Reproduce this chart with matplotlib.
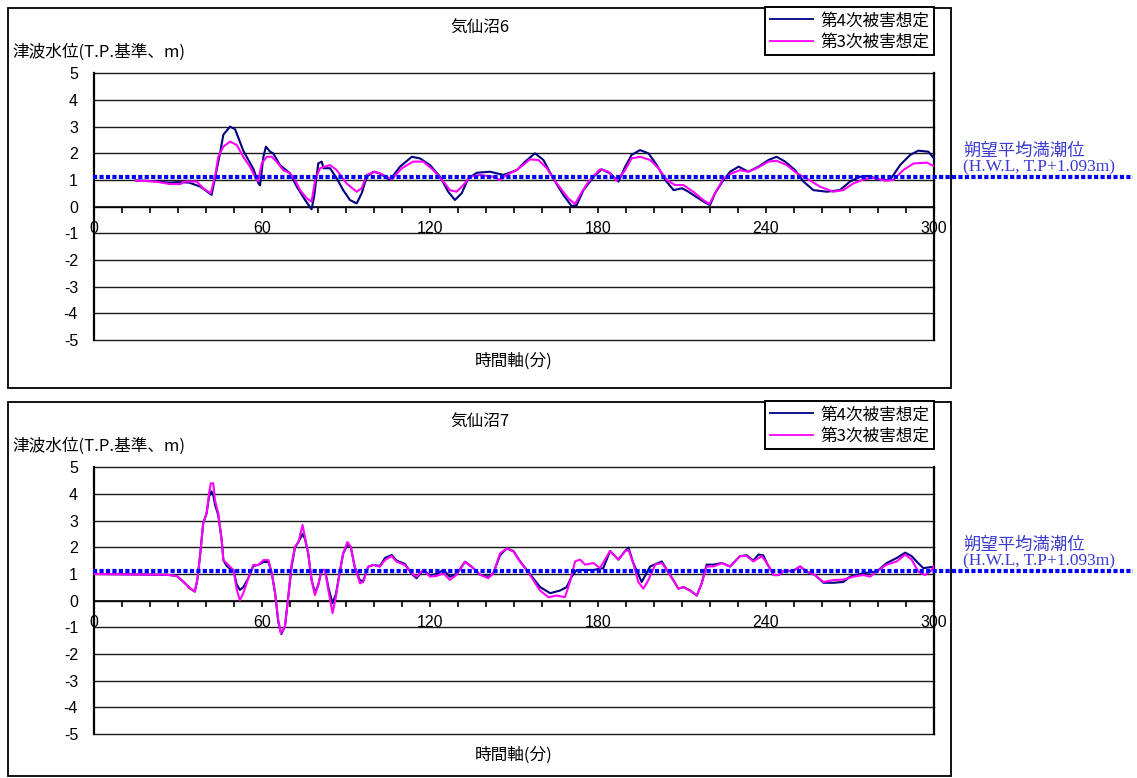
import matplotlib
matplotlib.use("Agg")
import matplotlib.pyplot as plt
from matplotlib.patches import Rectangle
from matplotlib.lines import Line2D
from matplotlib.ticker import MultipleLocator
from matplotlib.transforms import blended_transform_factory

plt.rcParams["font.family"] = ["Noto Sans CJK JP", "DejaVu Sans"]
plt.rcParams["axes.unicode_minus"] = False

# ---------------------------------------------------------------- data
HWL = 1.093  # 朔望平均満潮位 (T.P. m)

# 気仙沼6
k6_t_4 = [15, 22, 27, 30, 34, 38, 42, 45, 46.2, 48.6, 50.4, 53.3, 57, 58.7, 59.3, 60.5, 61.4, 62.9, 64,
          66.4, 70, 72.4, 75.4, 77.7, 78.6, 80.1, 81.3, 82, 84.3, 86.7, 89, 91.4, 93.8, 95.6, 97.4,
          99.8, 102, 105.7, 109.3, 113.5, 116.4, 120, 123.6, 126.5, 128.9, 131.3, 133.7, 136.7, 141.4,
          146.2, 151, 154, 157.5, 160.5, 164, 167.6, 170.6, 172.4, 174.8, 178.4, 181.3, 184.3, 187.3,
          189.7, 192, 195, 198, 201, 204, 207, 210, 212.3, 215.3, 218.8, 220, 221.8, 224.8, 227.2,
          230.2, 233.7, 237.3, 240.9, 243.8, 246.8, 250.4, 253.4, 256.9, 261.7, 266.4, 270, 273.6,
          276.6, 280.7, 284.3, 287.9, 291.5, 294.4, 298, 300]
k6_v_4 = [0.98, 0.95, 0.9, 0.92, 0.9, 0.75, 0.44, 2.0, 2.7, 3.0, 2.9, 2.1, 1.4, 0.88, 0.8, 1.87, 2.25,
          2.06, 2.0, 1.56, 1.25, 0.75, 0.25, -0.1, 0.37, 1.62, 1.69, 1.44, 1.44, 1.06, 0.62, 0.25, 0.12,
          0.5, 1.12, 1.31, 1.25, 1.0, 1.5, 1.87, 1.81, 1.56, 1.12, 0.56, 0.25, 0.5, 1.06, 1.27, 1.31,
          1.19, 1.37, 1.69, 2.0, 1.75, 1.06, 0.44, 0.02, 0.06, 0.62, 1.12, 1.4, 1.25, 0.94, 1.5, 1.94,
          2.12, 2.0, 1.56, 1.0, 0.62, 0.69, 0.56, 0.35, 0.12, 0.06, 0.5, 1.0, 1.31, 1.5, 1.31, 1.5,
          1.75, 1.87, 1.69, 1.37, 0.94, 0.62, 0.56, 0.62, 0.94, 1.12, 1.15, 1.0, 1.0, 1.56, 1.94, 2.1,
          2.06, 1.81]
k6_t_3 = [15, 22, 27, 31, 32, 36.7, 39, 41.7, 43.2, 44.4, 46.2, 48.6, 51, 53.3, 55.7, 58.1, 58.7, 59.9,
          61.7, 63.5, 65.2, 67.6, 70, 71.8, 73.6, 76, 77.7, 79, 80.7, 84.3, 86.7, 90.2, 93.8, 95.6,
          97.4, 100.4, 103.3, 106.3, 109.9, 114, 117.6, 121.2, 124.8, 127.1, 129.5, 131.9, 134.3,
          137.9, 142.6, 145, 147.4, 151, 155.7, 158.7, 161.7, 165.3, 169.4, 171.8, 173.6, 176.6,
          180.7, 183.7, 186.7, 189.7, 192, 195, 198.6, 201.6, 204.6, 207.5, 210.5, 214, 217.6, 219.8,
          221.8, 224.8, 227.8, 230.7, 233.7, 236.7, 240.9, 243.8, 247.4, 251, 254.5, 259.3, 264,
          267.6, 271.2, 274.8, 278.4, 282.5, 285.5, 289, 292.7, 297.4, 300]
k6_v_3 = [0.98, 0.94, 0.85, 0.85, 0.94, 0.94, 0.69, 0.5, 1.12, 1.87, 2.25, 2.44, 2.31, 1.87, 1.5, 1.0,
          0.97, 1.62, 1.87, 1.87, 1.69, 1.37, 1.25, 1.0, 0.62, 0.31, 0.19, 1.0, 1.44, 1.56, 1.37, 0.87,
          0.56, 0.69, 1.19, 1.31, 1.19, 1.02, 1.44, 1.69, 1.69, 1.37, 0.94, 0.62, 0.56, 0.81, 1.12,
          1.19, 1.12, 1.0, 1.19, 1.37, 1.77, 1.75, 1.44, 0.87, 0.31, 0.1, 0.44, 0.94, 1.4, 1.31, 0.97,
          1.37, 1.81, 1.87, 1.75, 1.44, 1.0, 0.81, 0.81, 0.56, 0.25, 0.1, 0.5, 1.06, 1.25, 1.37, 1.31,
          1.44, 1.69, 1.72, 1.56, 1.25, 1.06, 0.75, 0.56, 0.62, 0.87, 1.02, 1.09, 0.97, 1.0, 1.37,
          1.62, 1.65, 1.52]

# 気仙沼7
k7_t_4 = [0, 26, 29.5, 31.9, 34.3, 36, 36.9, 37.9, 39, 40.2, 41.1, 41.9, 42.6, 43.2, 44.4, 45.6, 46.2,
          47.4, 48.6, 49.8, 51, 52.1, 53.3, 55.1, 56.9, 58.7, 60.5, 62.3, 63.5, 64.7, 65.8, 66.9, 68.2,
          69.4, 70.6, 71.8, 73, 74.5, 75.4, 76.5, 77.7, 78.9, 80.1, 81.3, 82.5, 83.7, 85.2, 86.4, 87.9,
          89, 90.5, 91.7, 93.1, 95, 96.2, 97.9, 99.8, 102.1, 103.9, 106.3, 108.1, 111, 113.5, 115.2,
          117.6, 120, 122.4, 124.8, 127.1, 129.5, 132.5, 134.9, 137.9, 140.8, 142.6, 145, 147.4, 149.8,
          152.2, 155.7, 159.3, 162.9, 166.5, 168.8, 170.6, 172.4, 175.4, 178.4, 181.9, 184.3, 187.3,
          189.7, 190.9, 192.6, 195.6, 198.6, 202.8, 204.6, 206.9, 208.7, 210.5, 212.9, 215.3, 217,
          218.8, 221.2, 224.2, 227.2, 230.7, 233.1, 235.5, 237.3, 239, 240.3, 242.7, 244.5, 246.8,
          249.2, 252.2, 254.5, 257.5, 260.5, 264, 267.6, 270, 274.8, 279.5, 283.1, 286.7, 289.7, 292,
          294.4, 296.2, 299.2, 300]
k7_v_4 = [1.0, 0.97, 0.93, 0.71, 0.46, 0.34, 0.78, 1.71, 2.9, 3.27, 3.9, 4.1, 3.95, 3.6, 3.2, 2.27,
          1.52, 1.3, 1.2, 1.15, 0.6, 0.4, 0.5, 0.84, 1.3, 1.34, 1.45, 1.45, 1.02, 0.27, -0.8, -1.25,
          -0.97, 0.15, 1.3, 2.0, 2.2, 2.5, 2.3, 1.77, 0.78, 0.3, 0.59, 1.15, 1.15, 0.5, -0.1, 0.25,
          1.15, 1.77, 2.1, 2.02, 1.27, 0.75, 0.75, 1.27, 1.34, 1.3, 1.6, 1.71, 1.5, 1.38, 1.0, 0.84,
          1.15, 0.95, 1.0, 1.15, 0.9, 1.0, 1.46, 1.27, 0.97, 0.9, 1.02, 1.7, 1.96, 1.86, 1.47, 1.0,
          0.51, 0.28, 0.38, 0.51, 0.9, 1.15, 1.15, 1.15, 1.22, 1.86, 1.54, 1.86, 1.99, 1.41, 0.7, 1.28,
          1.47, 1.15, 0.77, 0.45, 0.51, 0.38, 0.19, 0.64, 1.35, 1.35, 1.41, 1.28, 1.67, 1.7, 1.5, 1.73,
          1.7, 1.41, 0.96, 0.96, 1.15, 1.09, 1.28, 1.09, 0.96, 0.67, 0.67, 0.7, 0.9, 1.03, 1.09, 1.41,
          1.6, 1.8, 1.67, 1.4, 1.22, 1.26, 1.28]
k7_t_3 = [0, 26, 29.5, 31.9, 34.3, 36, 36.9, 37.9, 39, 40.2, 41.1, 41.7, 42.6, 43.2, 44.4, 45.6, 46.2,
          47.4, 48.6, 49.8, 51, 52.1, 53.3, 55.1, 56.9, 58.7, 60.5, 62.3, 63.5, 64.7, 65.8, 66.7, 68.2,
          69.4, 70.6, 71.8, 73, 74.5, 75.4, 76.5, 77.7, 78.9, 80.1, 81.3, 82.5, 83.7, 85.2, 86.4, 87.9,
          89, 90.5, 91.7, 93.1, 95, 96.2, 97.9, 99.8, 102.1, 103.9, 106.3, 108.1, 111, 113.5, 115.2,
          117.6, 120, 122.4, 124.8, 127.1, 129.5, 132.5, 134.9, 137.9, 140.8, 142.6, 145, 147.4, 149.8,
          152.2, 155.7, 159.3, 162.3, 165.3, 168.2, 170, 171.8, 173.6, 175.4, 178.4, 180.7, 182.5,
          184.3, 187.3, 189.7, 190.9, 192.6, 194.4, 196.2, 198, 200.4, 202.8, 204.6, 206.9, 208.7,
          210.5, 212.9, 215.3, 217, 218.8, 221.2, 224.2, 227.2, 230.7, 233.1, 235.5, 238.5, 240.3,
          242.7, 244.5, 246.8, 249.2, 252.2, 254.5, 257.5, 260.5, 264, 267.6, 271.2, 274.8, 277.2,
          279.5, 283.1, 286.7, 289.7, 292, 294.4, 296.8, 299.2, 300]
k7_v_3 = [1.0, 0.97, 0.93, 0.71, 0.46, 0.34, 0.78, 1.71, 2.9, 3.27, 4.02, 4.4, 4.4, 3.77, 3.27, 2.27,
          1.52, 1.4, 1.27, 1.15, 0.4, 0.02, 0.27, 0.84, 1.34, 1.34, 1.52, 1.52, 1.02, 0.27, -0.73,
          -1.22, -0.97, 0.15, 1.4, 2.02, 2.2, 2.84, 2.34, 1.77, 0.78, 0.21, 0.59, 1.15, 1.15, 0.4,
          -0.47, 0.15, 1.15, 1.77, 2.2, 2.02, 1.27, 0.65, 0.71, 1.27, 1.34, 1.27, 1.52, 1.67, 1.46,
          1.34, 1.02, 0.9, 1.15, 0.9, 0.93, 1.02, 0.78, 0.97, 1.46, 1.27, 0.97, 0.84, 1.02, 1.77, 1.96,
          1.84, 1.47, 0.96, 0.38, 0.13, 0.19, 0.13, 0.7, 1.47, 1.54, 1.35, 1.41, 1.22, 1.54, 1.86,
          1.54, 1.86, 1.9, 1.41, 0.7, 0.45, 0.77, 1.35, 1.41, 1.15, 0.77, 0.45, 0.51, 0.38, 0.19, 0.64,
          1.28, 1.28, 1.41, 1.28, 1.67, 1.67, 1.47, 1.67, 1.41, 0.96, 0.96, 1.15, 1.09, 1.28, 1.09,
          0.96, 0.7, 0.77, 0.79, 0.9, 0.96, 0.9, 1.09, 1.35, 1.47, 1.73, 1.54, 1.09, 0.96, 1.15, 1.3]

titles = ["気仙沼6", "気仙沼7"]
series_labels = ["第4次被害想定", "第3次被害想定"]
y_ticks = list(range(-5, 6))
x_major = list(range(0, 301, 60))
ylabel_text = "津波水位(T.P.基準、m)"
xlabel_text = "時間軸(分)"
hwl_lines = ["朔望平均満潮位", "(H.W.L, T.P+1.093m)"]

# ---------------------------------------------------------------- layout
W, H = 1137, 778
fig = plt.figure(figsize=(W / 100, H / 100), dpi=100)
fig.patch.set_facecolor("white")


def fx(px):
    return px / W


def fy(py):
    return 1 - py / H


NAVY = "#000080"
PINK = "#FF00FF"
HWL_BLUE = "#0000FF"
NOTE_BLUE = "#3b3bd0"
TICK_FONT = ["Liberation Sans", "DejaVu Sans"]


def draw_panel(off, box_bottom, title, t4, v4, t3, v3):
    # outer frame of the panel
    fig.add_artist(Rectangle((fx(8), fy(box_bottom)), fx(951) - fx(8), fy(off + 8) - fy(box_bottom),
                             transform=fig.transFigure, fill=False, lw=1.3, ec="black", zorder=-1))

    top, bottom = off + 73.3, off + 340
    ax = fig.add_axes([fx(94), fy(bottom), fx(934) - fx(94), fy(top) - fy(bottom)])
    ax.set_xlim(0, 300)
    ax.set_ylim(-5, 5)

    for y in y_ticks:
        ax.axhline(y, color="#1a1a1a", lw=1.0, zorder=1, clip_on=False)

    ax.plot(t4, v4, color=NAVY, lw=1.5, zorder=3)
    ax.plot(t3, v3, color=PINK, lw=1.5, zorder=4)

    # mean high water level, continued past the plot to the note on the right
    tr = blended_transform_factory(fig.transFigure, ax.transData)
    ax.plot([fx(93), fx(1133)], [HWL, HWL], transform=tr, color=HWL_BLUE, lw=3.0,
            linestyle=(0, (1.0, 0.55)), dash_capstyle="butt", clip_on=False, zorder=5)

    ax.spines["top"].set_visible(False)
    ax.spines["left"].set_linewidth(1.6)
    ax.spines["right"].set_linewidth(1.6)
    ax.spines["bottom"].set_position(("data", 0))
    ax.spines["bottom"].set_linewidth(1.2)
    for s in ax.spines.values():
        s.set_color("black")

    ax.set_yticks(y_ticks)
    ax.set_yticklabels([str(v) for v in y_ticks], family=TICK_FONT, fontsize=11.5)
    ax.tick_params(axis="y", length=0, pad=11.5)
    ax.set_xticks(x_major)
    ax.set_xticklabels([str(v) for v in x_major], family=TICK_FONT, fontsize=11.5)
    ax.xaxis.set_minor_locator(MultipleLocator(10))
    ax.tick_params(axis="x", which="both", direction="out", length=4, width=1.2, color="black", pad=6)

    handles = [Line2D([], [], color=NAVY, lw=1.3), Line2D([], [], color=PINK, lw=1.3)]
    leg = ax.legend(handles, series_labels, loc="upper right",
                    bbox_to_anchor=(fx(934), fy(off + 7.3)), bbox_transform=fig.transFigure,
                    borderaxespad=0, fontsize=12, handlelength=2.6, handletextpad=0.4,
                    borderpad=0.3, labelspacing=0.25, fancybox=False, framealpha=1)
    leg.get_frame().set_edgecolor("black")
    leg.get_frame().set_linewidth(1.4)

    fig.text(fx(480), fy(off + 28), title, ha="center", va="center", fontsize=12)
    fig.text(fx(12), fy(off + 52), ylabel_text, ha="left", va="center", fontsize=12)
    fig.text(fx(514), fy(off + 361), xlabel_text, ha="center", va="center", fontsize=12)
    fig.text(fx(963), fy(off + 151), hwl_lines[0], ha="left", va="center", fontsize=12.5,
             color=NOTE_BLUE)
    fig.text(fx(963), fy(off + 167), hwl_lines[1], ha="left", va="center", fontsize=12.5,
             color=NOTE_BLUE, family=["Liberation Serif", "DejaVu Serif"])
    return ax


draw_panel(0, 388, titles[0], k6_t_4, k6_v_4, k6_t_3, k6_v_3)
draw_panel(394, 776, titles[1], k7_t_4, k7_v_4, k7_t_3, k7_v_3)

fig.savefig("out.png", dpi=100)
